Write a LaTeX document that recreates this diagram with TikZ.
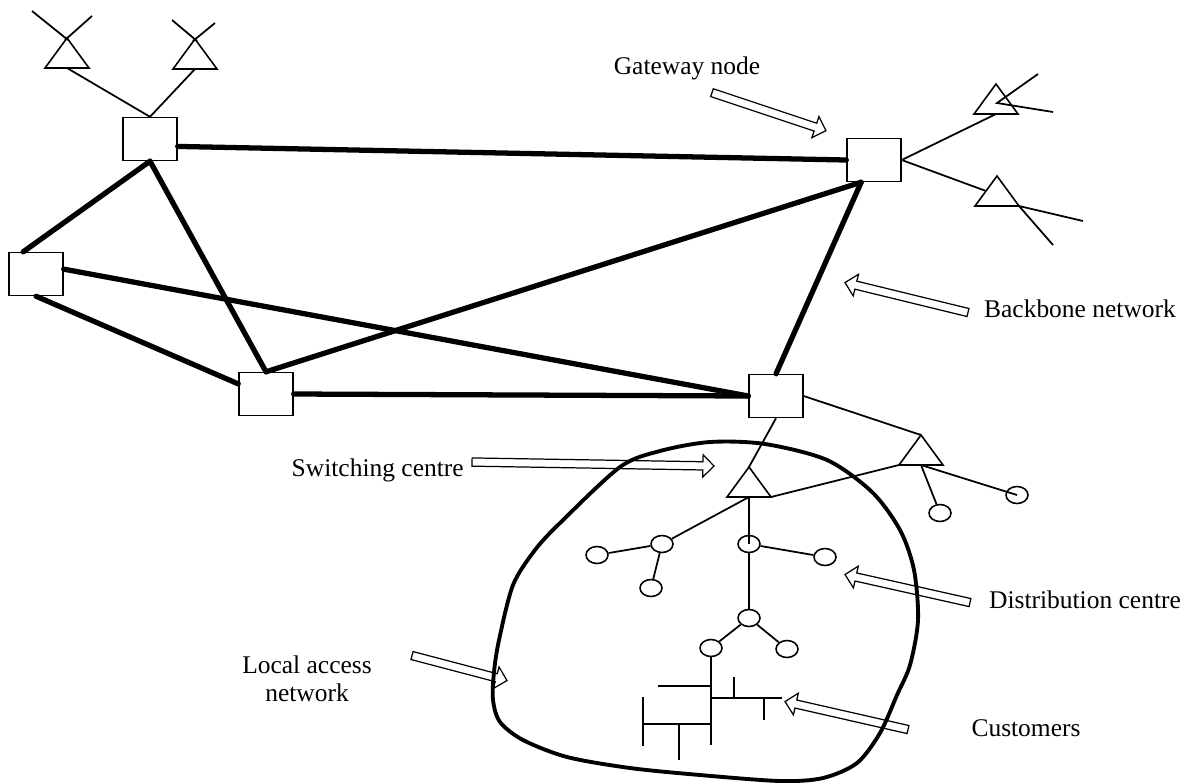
\documentclass[tikz,border=0pt]{standalone}
\usepackage{fontspec}
\setmainfont{Liberation Serif}
\usetikzlibrary{shapes.geometric,shapes.arrows,calc}

\tikzset{
  switch/.style={draw, rectangle, line width=0.8pt, minimum width=1.08cm, minimum height=0.86cm, inner sep=0pt},
  dist/.style={draw, ellipse, line width=0.9pt, minimum width=0.44cm, minimum height=0.34cm, inner sep=0pt},
  trunk/.style={line width=3pt, line cap=round},
  feed/.style={line width=1pt},
  drop/.style={line width=0.8pt},
  note/.style={font=\fontsize{14.5}{16}\selectfont, inner sep=0pt},
  pointer/.style={draw, single arrow, line width=0.7pt, inner sep=0.07cm,
    single arrow head extend=0.14cm, single arrow tip angle=90, minimum height={#1}},
  mast/.pic={
    \draw[line width=0.9pt] (-22,30) -- (0,0) -- (22,30) -- cycle;
    \coordinate (-apex) at (0,0);
    \coordinate (-base) at (0,30);
    \coordinate (-bl) at (-22,30);
    \coordinate (-br) at (22,30);
    \coordinate (-side) at (-11,15);
  }
}

% hollow arrow from #2 to #3
\newcommand\pointto[3]{%
  \path let \p1=($(#3)-(#2)$) in
    node (#1) [pointer={veclen(\x1,\y1)}, rotate={atan2(\y1,\x1)}] at ($(#2)!0.5!(#3)$) {};}

\begin{document}
\begin{tikzpicture}[x=0.02cm,y=-0.02cm]
\useasboundingbox (0,0) rectangle (1196,782);

% switching centres
\node (A) at (150,139) [switch] {};
\node (B) at (36,274) [switch] {};
\node (C) at (266,394) [switch] {};
\node (D) at (874,160) [switch] {};
\node (E) at (776,396) [switch] {};

% backbone
\draw[trunk] (A.-15) -- (D.west);
\draw[trunk] (A.south) -- (B.120);
\draw[trunk] (A.south) -- (C.north);
\draw[trunk] (B.10) -- (E.west);
\draw[trunk] (B.south) -- (C.160);
\draw[trunk] (C.east) -- (E.west);
\draw[trunk] (C.north) -- (D.-120);
\draw[trunk] (D.-120) -- (E.north);

% radio masts
\pic (a1) at (67,38) {mast};
\pic (a2) at (195,39) {mast};
\pic (g1) at (996,84) {mast};
\pic (g2) at (997,176) {mast};

\draw[feed] (a1-base) -- (A.north) -- (a2-base);
\draw[feed] ([shift={(-35,-27)}]a1-apex) -- ([shift={(1,2)}]a1-apex);
\draw[feed] ([shift={(25,-22)}]a1-apex) -- ([shift={(-2,2)}]a1-apex);
\draw[feed] ([shift={(-23,-19)}]a2-apex) -- ([shift={(2,2)}]a2-apex);
\draw[feed] ([shift={(20,-16)}]a2-apex) -- ([shift={(-2,2)}]a2-apex);

\draw[feed] (D.east) -- (g1-base);
\draw[feed] (D.east) -- (g2-side);
\draw[feed] ([shift={(42,-10)}]g1-apex) -- ([shift={(1,19)}]g1-apex) -- ([shift={(57,28)}]g1-apex);
\draw[feed] ([shift={(64,15)}]g2-br) -- (g2-br) -- ([shift={(34,39)}]g2-br);

% local access network
\draw[line width=2.2pt] plot[smooth cycle, tension=0.5] coordinates {
  (710,442) (765,444) (827,460) (872,492) (900,530) (914,570) (918,620)
  (910,665) (897,695) (880,733) (857,763) (823,778) (780,781) (700,775)
  (630,768) (567,757) (523,740) (500,722) (493,700) (494,672) (499,640)
  (513,585) (535,550) (560,523) (620,467) (660,451)};

\pic (t1) at (749,467) {mast};
\pic (t2) at (921,435) {mast};

\node (cA) at (597,555) [dist] {};
\node (cB) at (662,544) [dist] {};
\node (cC) at (651,588) [dist] {};
\node (cD) at (749,544) [dist] {};
\node (cE) at (825,557) [dist] {};
\node (cF) at (749,618) [dist] {};
\node (cG) at (711,648) [dist] {};
\node (cH) at (787,649) [dist] {};
\node (cI) at (940,513) [dist] {};
\node (cJ) at (1017,495) [dist] {};

\draw[feed] (E.south) -- (t1-apex);
\draw[feed] (E.east) -- (t2-apex);
\draw[feed] (t1-br) -- (t2-bl);
\draw[feed] (t1-base) -- (cB);
\draw[feed] (t1-base) -- (cD.center);
\draw[feed] (cB) -- (cA);
\draw[feed] (cB) -- (cC);
\draw[feed] (cD) -- (cE);
\draw[feed] (cD) -- (cF);
\draw[feed] (cF) -- (cG);
\draw[feed] (cF) -- (cH);
\draw[feed] (t2-base) -- (cI);
\draw[feed] (t2-base) -- (cJ.center);

% customers
\draw[drop] (cG.south) -- (711,745);
\draw[drop] (658,686) -- (711,686);
\draw[drop] (711,698) -- (782,698);
\draw[drop] (734,677) -- (734,698);
\draw[drop] (764,698) -- (764,720);
\draw[drop] (643,697) -- (643,746);
\draw[drop] (643,724) -- (711,724);
\draw[drop] (679,724) -- (679,760);

% labels
\node (gw) at (687,68) [note] {Gateway node};
\node (bb) at (1080,309) [note] {Backbone network};
\node (sw) at (464,470) [note, anchor=east] {Switching centre};
\node (la) at (307,679) [note, align=center] {Local access\\network};
\node (dc) at (1085,600) [note] {Distribution centre};
\node (cu) at (1026,728) [note] {Customers};

\coordinate (gw0) at (710,92);  \coordinate (gw1) at (824,130);
\coordinate (bb0) at (970,313); \coordinate (bb1) at (847,283);
\coordinate (sw0) at (470,462); \coordinate (sw1) at (712,466);
\coordinate (la0) at (410,655); \coordinate (la1) at (505,680);
\coordinate (dc0) at (972,603); \coordinate (dc1) at (847,575);
\coordinate (cu0) at (910,730); \coordinate (cu1) at (787,702);

\pointto{gwp}{gw0}{gw1}
\pointto{bbp}{bb0}{bb1}
\pointto{swp}{sw0}{sw1}
\pointto{lap}{la0}{la1}
\pointto{dcp}{dc0}{dc1}
\pointto{cup}{cu0}{cu1}

\end{tikzpicture}
\end{document}
